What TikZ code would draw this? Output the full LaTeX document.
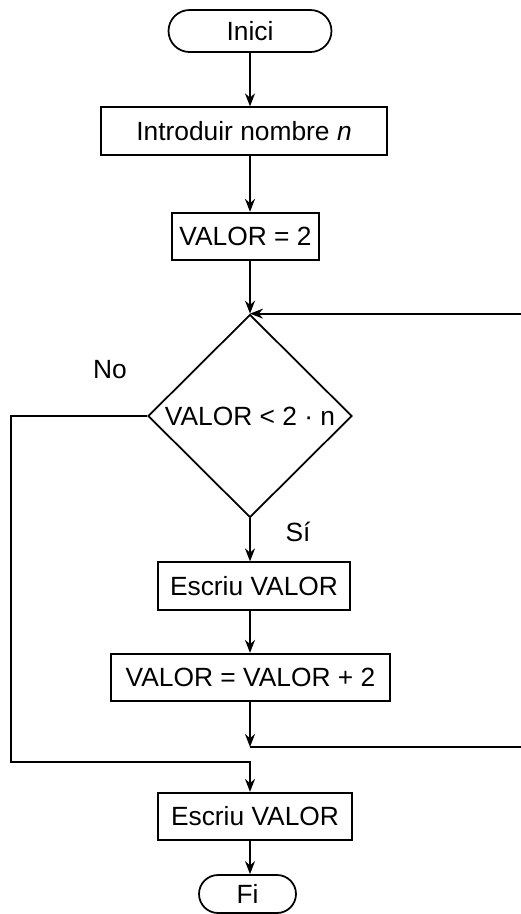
\documentclass[tikz,border=0pt]{standalone}
\usepackage{fontspec}
\setmainfont{Liberation Sans}
\usetikzlibrary{shapes,arrows.meta}
\usetikzlibrary{positioning}

\tikzset{
    procbox/.style={draw, rectangle, inner sep=0pt, minimum height=0.95cm},
    termbox/.style={draw, rounded rectangle, inner sep=0pt},
    decbox/.style={draw, diamond, inner sep=0pt}
}

\begin{document}
\begin{tikzpicture}[x=0.02cm,y=-0.02cm,line width=1pt,
    every node/.style={font=\fontsize{15}{18}\selectfont},
    >={Stealth[length=0.26cm,width=0.2cm]}]
    \clip (0,0) rectangle (521,914);
    \node[termbox, minimum width=3.26cm, minimum height=0.84cm] (inici) at (250,31) {Inici};
    \node[procbox, minimum width=5.72cm] (intro) at (244,131) {Introduir nombre \textit{n}};
    \node[procbox, minimum width=2.94cm] (val) at (245.5,236.5) {VALOR = 2};
    \node[decbox, minimum width=4.08cm, minimum height=4.06cm] (dec) at (250,416) {VALOR < 2 · n};
    \node[procbox, minimum width=3.84cm] (esc1) at (254,586) {Escriu VALOR};
    \node[procbox, minimum width=5.58cm] (add) at (250.5,677.5) {VALOR = VALOR + 2};
    \node[procbox, minimum width=3.88cm] (esc2) at (255,816.5) {Escriu VALOR};
    \node[termbox, minimum width=1.94cm, minimum height=0.76cm] (fi) at (247.5,894) {Fi};
    \node (no) at (110,370) {No};
    \node (si) at (298,532) {Sí};
    \coordinate (join) at (250,747);
    \coordinate (rside) at (530,747);
    \coordinate (lside) at (11,762);
    % main flow
    \draw[->] (inici) -- (dec |- intro.north);
    \draw[->] (dec |- intro.south) -- (dec |- val.north);
    \draw[->] (dec |- val.south) -- (dec.north);
    \draw[->] (dec) -- (dec |- esc1.north);
    \draw[->] (dec |- esc1.south) -- (dec |- add.north);
    \draw[->] (dec |- add.south) -- (join);
    % loop back
    \draw[->] (join) -- (rside) -- (rside |- dec.north) -- (dec.north);
    % exit
    \draw[->] (dec.west) -- (dec.west -| lside) -- (lside) -- (lside -| dec) -- (dec |- esc2.north);
    \draw[->] (dec |- esc2.south) -- (dec |- fi.north);
\end{tikzpicture}
\end{document}
